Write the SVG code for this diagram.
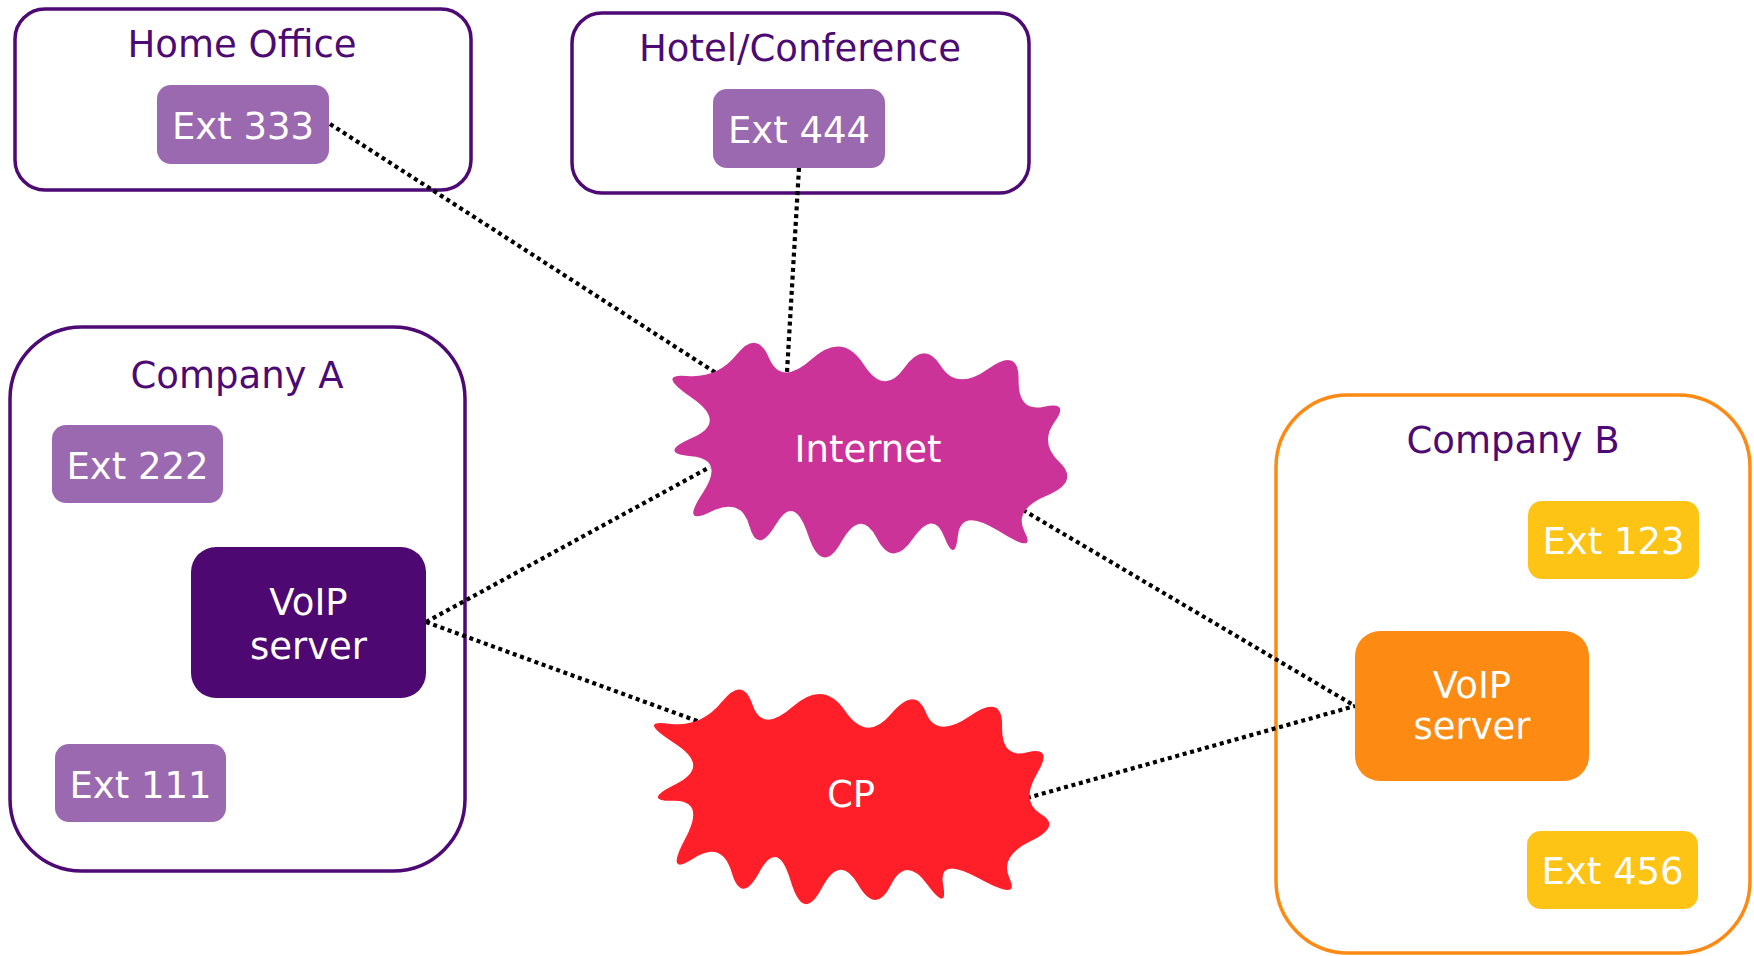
<svg xmlns="http://www.w3.org/2000/svg" width="1754" height="956" viewBox="0 0 1754 956">
<style>
text{font-family:"DejaVu Sans",Verdana,sans-serif;font-size:37px;text-anchor:middle}
.title{fill:#4d0a75}
.lbl{fill:#ffffff}
.cont{fill:#ffffff;stroke:#4d0a75;stroke-width:3.5}
.contB{fill:#ffffff;stroke:#fd8a14;stroke-width:3.5}
.extP{fill:#9b69b0}
.extY{fill:#fdc315}
.conn{fill:none;stroke:#000;stroke-width:4.2;stroke-dasharray:4 3.7}
</style>
<rect width="1754" height="956" fill="#ffffff"/>
<g id="home-office">
<rect class="cont" x="15" y="9" width="456" height="181" rx="30"/>
<text class="title" x="242" y="57">Home Office</text>
</g>
<g id="hotel">
<rect class="cont" x="572" y="13" width="457" height="180" rx="30"/>
<text class="title" x="800" y="61">Hotel/Conference</text>
</g>
<g id="company-a">
<rect class="cont" x="10" y="327" width="455" height="544" rx="72"/>
<text class="title" x="237" y="388">Company A</text>
</g>
<g id="company-b">
<rect class="contB" x="1276" y="395" width="474" height="558" rx="72"/>
<text class="title" x="1513" y="453">Company B</text>
</g>
<g id="connectors">
<line class="conn" x1="330" y1="124" x2="716" y2="373"/>
<line class="conn" x1="799" y1="168" x2="787" y2="372"/>
<line class="conn" x1="426" y1="622" x2="710" y2="467"/>
<line class="conn" x1="426" y1="622" x2="700" y2="722"/>
<line class="conn" x1="1023" y1="510" x2="1355" y2="706"/>
<line class="conn" x1="1027" y1="798" x2="1355" y2="706"/>
</g>
<g id="ext333">
<rect class="extP" x="157" y="85" width="172" height="79" rx="14"/>
<text class="lbl" x="243" y="138.5">Ext 333</text>
</g>
<g id="ext444">
<rect class="extP" x="713" y="89" width="172" height="79" rx="14"/>
<text class="lbl" x="799" y="143">Ext 444</text>
</g>
<g id="ext222">
<rect class="extP" x="52" y="425" width="171" height="78" rx="14"/>
<text class="lbl" x="137.5" y="479">Ext 222</text>
</g>
<g id="ext111">
<rect class="extP" x="55" y="744" width="171" height="78" rx="14"/>
<text class="lbl" x="140.5" y="798">Ext 111</text>
</g>
<g id="voip-a">
<rect x="191" y="547" width="235" height="151" rx="25" fill="#4e0872"/>
<text class="lbl" x="308.5" y="615">VoIP</text>
<text class="lbl" x="308.5" y="659">server</text>
</g>
<g id="ext123">
<rect class="extY" x="1528" y="501" width="171" height="78" rx="14"/>
<text class="lbl" x="1613.5" y="554">Ext 123</text>
</g>
<g id="ext456">
<rect class="extY" x="1527" y="831" width="171" height="78" rx="14"/>
<text class="lbl" x="1612.5" y="884">Ext 456</text>
</g>
<g id="voip-b">
<rect x="1355" y="631" width="234" height="150" rx="25" fill="#fd8a12"/>
<text class="lbl" x="1472" y="698">VoIP</text>
<text class="lbl" x="1472" y="739">server</text>
</g>
<g id="internet">
<path fill="#cc3399" d="M691.7,397.7 Q655.8,373.2 686.7,376 Q717.5,378.7 737.1,354.1 Q756.7,329.5 769,357.9 Q781.3,386.3 811.9,359 Q842.5,331.6 863.4,364 Q884.2,396.5 904.2,368.1 Q924.2,339.8 940.5,365.5 Q956.7,391.3 988,369 Q1019.2,346.7 1018.6,379.6 Q1017.9,412.5 1044,406.7 Q1070,400.9 1054.6,421.9 Q1039.2,442.9 1059.6,462.3 Q1080,481.7 1046.5,495.7 Q1012.9,509.6 1024.8,532.3 Q1036.7,555 998.8,531.1 Q960.9,507.1 957.9,535.7 Q955,564.2 944.2,536.7 Q933.4,509.2 912.9,538.8 Q892.5,568.4 876.7,537.9 Q860.9,507.5 841.3,541.9 Q821.7,576.3 808,534.8 Q794.2,493.3 775.9,524.4 Q757.5,555.4 749.4,526.1 Q741.3,496.7 710.8,511.7 Q680.4,526.7 702.7,492.9 Q725,459.2 691.1,456.3 Q657.1,453.3 692.3,437.8 Q727.5,422.3 691.7,397.7 Z"/>
<text class="lbl" x="868" y="461.5">Internet</text>
</g>
<g id="cp">
<path fill="#fe1f28" d="M674,742.9 Q636.7,719.3 668.8,723.7 Q700.8,728 721.9,701.8 Q742.9,675.6 752.5,704.7 Q762.1,733.8 792.9,706.5 Q823.8,679.2 845.2,711 Q866.7,742.7 891,714 Q915.4,685.4 925.8,712.2 Q936.3,739.1 969.6,716.2 Q1002.9,693.2 1002.1,726.2 Q1001.3,759.2 1027.5,752.3 Q1053.8,745.4 1037,773.8 Q1020.3,802.1 1041.1,814.2 Q1061.9,826.3 1030.4,841.3 Q999,856.3 1009.7,878.8 Q1020.4,901.3 979.2,878.6 Q937.9,855.9 943.1,884.4 Q948.3,912.9 927.1,884.2 Q905.8,855.4 890.8,885.3 Q875.8,915.2 857.9,884.2 Q840,853.2 821.7,888.3 Q803.3,923.4 790.6,880.7 Q777.9,838.1 759.6,871.7 Q741.3,905.3 731.7,872.6 Q722.1,840 693.4,858.6 Q664.6,877.1 685.2,838.8 Q705.9,800.4 673.4,800.8 Q640.9,801.3 676.1,783.9 Q711.3,766.5 674,742.9 Z"/>
<text class="lbl" x="851" y="807">CP</text>
</g>
</svg>
